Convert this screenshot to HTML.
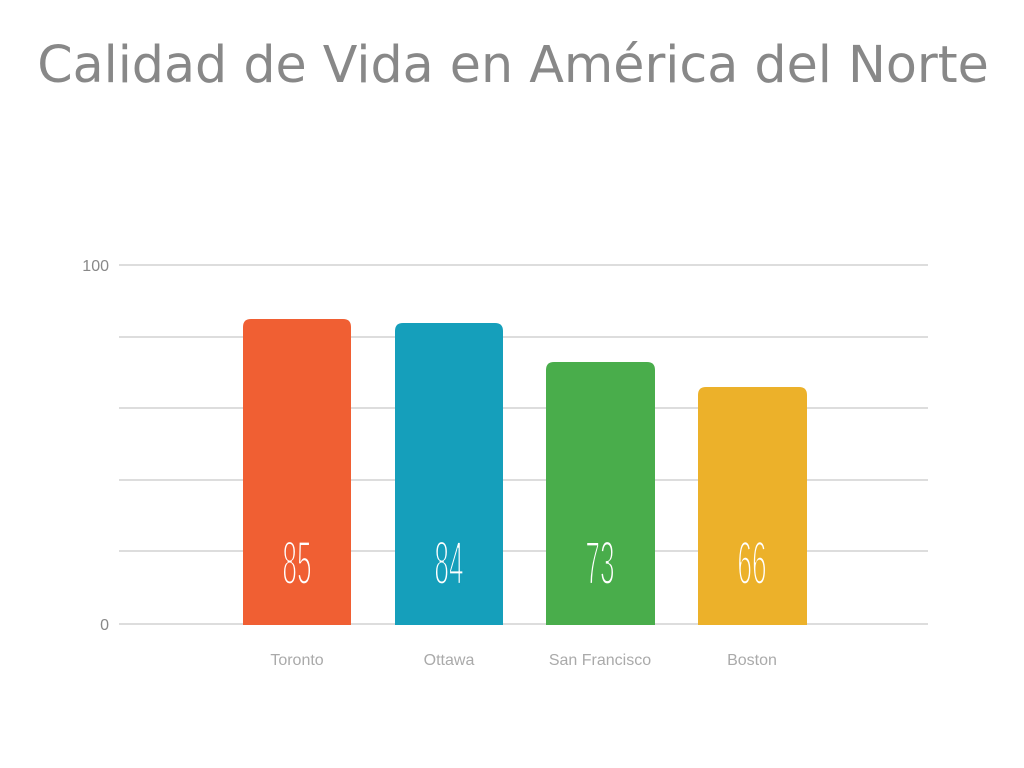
<!DOCTYPE html>
<html><head><meta charset="utf-8"><style>
html,body{margin:0;padding:0;background:#fff;width:1024px;height:768px;overflow:hidden}
</style></head><body>
<svg width="1024" height="768" xmlns="http://www.w3.org/2000/svg">
<text x="513" y="82" text-anchor="middle" font-family="DejaVu Sans, sans-serif" font-size="50.7" fill="#888">Calidad de Vida en América del Norte</text>
<g stroke="#ddd" stroke-width="2">
<line x1="119" x2="928" y1="265" y2="265"/>
<line x1="119" x2="928" y1="337" y2="337"/>
<line x1="119" x2="928" y1="408" y2="408"/>
<line x1="119" x2="928" y1="480" y2="480"/>
<line x1="119" x2="928" y1="551" y2="551"/>
<line x1="119" x2="928" y1="624" y2="624"/>
</g>
<g font-family="Liberation Sans, sans-serif" font-size="16" fill="#888" text-anchor="end">
<text x="109" y="271">100</text>
<text x="109" y="630">0</text>
</g>
<path d="M243 625 V327 Q243 319 251 319 H343 Q351 319 351 327 V625 Z" fill="#f05f33"/>
<path d="M395 625 V331 Q395 323 403 323 H495 Q503 323 503 331 V625 Z" fill="#159fbb"/>
<path d="M546 625 V370 Q546 362 554 362 H647 Q655 362 655 370 V625 Z" fill="#49ad4b"/>
<path d="M698 625 V395 Q698 387 706 387 H799 Q807 387 807 395 V625 Z" fill="#ecb12a"/>
<g font-family="Liberation Sans, sans-serif" font-size="61" fill="#fff" text-anchor="middle" stroke-width="2.2">
<text transform="translate(297,584) scale(0.43,1)" stroke="#f05f33">85</text>
<text transform="translate(449,584) scale(0.43,1)" stroke="#159fbb">84</text>
<text transform="translate(600,584) scale(0.43,1)" stroke="#49ad4b">73</text>
<text transform="translate(752,584) scale(0.43,1)" stroke="#ecb12a">66</text>
</g>
<g font-family="Liberation Sans, sans-serif" font-size="16" fill="#aaa" text-anchor="middle">
<text x="297" y="665">Toronto</text>
<text x="449" y="665">Ottawa</text>
<text x="600" y="665">San Francisco</text>
<text x="752" y="665">Boston</text>
</g>
</svg>
</body></html>
